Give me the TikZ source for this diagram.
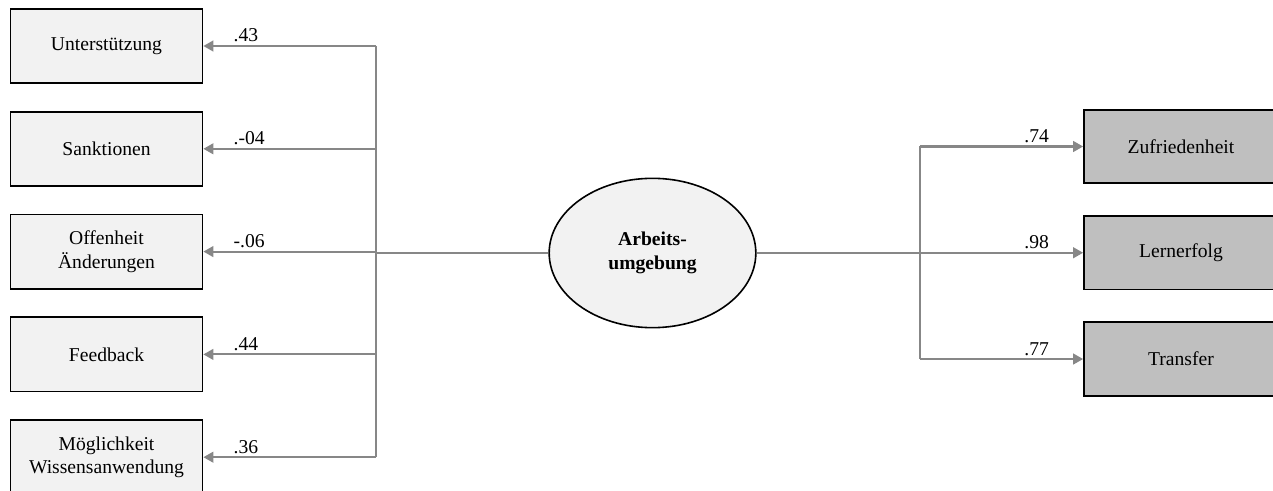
\documentclass[tikz,border=0pt]{standalone}
\usepackage{fontspec}
\setmainfont{Liberation Serif}
\usepackage{tikz}
\usetikzlibrary{arrows.meta,positioning,calc,shapes.geometric}
\definecolor{boxlight}{HTML}{F2F2F2}
\definecolor{boxdark}{HTML}{BFBFBF}
\definecolor{linegray}{HTML}{878787}
\tikzset{
	indbox/.style={draw, fill=boxlight, line width=1.3pt, align=center, inner sep=2pt,
		minimum width=144pt, minimum height=55.6pt},
	outbox/.style={draw, fill=boxdark, line width=1.3pt, align=center, inner sep=2pt,
		minimum width=145.5pt, minimum height=55pt},
	latent/.style={ellipse, draw, fill=boxlight, line width=1.2pt, align=center,
		minimum width=155pt, minimum height=112pt, font=\bfseries},
	conn/.style={draw=linegray, line width=1.6pt},
	arrow/.style={-{Triangle[length=7.5pt, width=8pt]}, linegray, line width=1.6pt},
	coef/.style={inner sep=0pt}
}

\begin{document}
\fontsize{14.7}{17.5}\selectfont
\begin{tikzpicture}[
	x=0.75pt, y=-0.75pt,
	node distance=20.2pt,
	]
	\useasboundingbox (0,0) rectangle (1273,491);
	\clip (0,0) rectangle (1273,491);

	%% -- Indicators (left)
	\node[indbox] (unt) at (106.5,46) {Unterstützung};
	\node[indbox, below=of unt] (san) {Sanktionen};
	\node[indbox, below=of san] (off) {Offenheit\\Änderungen};
	\node[indbox, below=of off] (feed) {Feedback};
	\node[indbox, below=of feed] (moeg) {Möglichkeit\\Wissensanwendung};

	%% -- Latent factor
	\node[latent] (arb) at (652.5,253) {Arbeits-\\umgebung};

	%% -- Outcomes (right)
	\node[outbox] (zuf) at (1181,146.5) {Zufriedenheit};
	\node[outbox, below=23.4pt of zuf] (lern) {Lernerfolg};
	\node[outbox, below=23.4pt of lern] (trans) {Transfer};

	%% -- Bus lines
	\coordinate (lbus) at (376,252);
	\coordinate (rbus) at (920,253);

	\draw[conn] (arb.west) -- (arb.west -| lbus);
	\draw[conn] (lbus |- unt.east) -- (lbus |- moeg.east);
	\draw[conn] (arb.east) -- (arb.east -| rbus);
	\draw[conn] (rbus |- zuf.west) -- (rbus |- trans.west);

	%% -- Loadings
	\foreach \b/\v in {unt/.43, san/.-04, off/-.06, feed/.44, moeg/.36}{
		\draw[arrow] (lbus |- \b.east) -- (\b.east);
		\node[coef, anchor=base west] (l\b) at ($(\b.east)+(30,-4)$) {\v};
	}
	\foreach \b/\v in {zuf/.74, lern/.98, trans/.77}{
		\draw[arrow] (rbus |- \b.west) -- (\b.west);
		\node[coef, anchor=base east] (l\b) at ($(\b.west)+(-34,-4)$) {\v};
	}

\end{tikzpicture}
\end{document}
